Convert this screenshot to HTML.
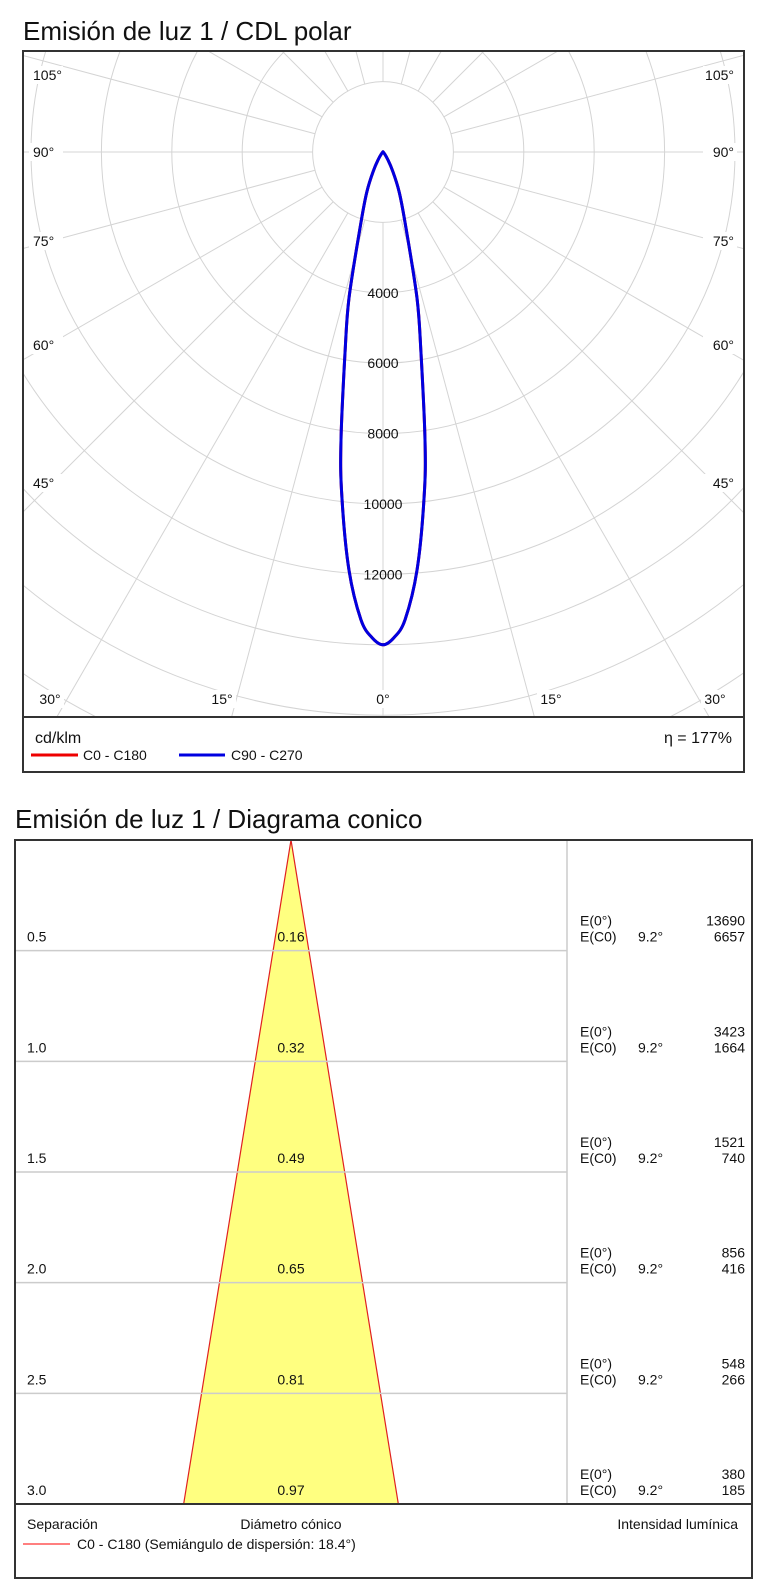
<!DOCTYPE html>
<html><head><meta charset="utf-8"><style>
html,body{margin:0;padding:0;background:#fff;width:764px;height:1587px;overflow:hidden;}
svg{display:block;font-family:"Liberation Sans",Arial,sans-serif;}
</style></head><body>
<svg id="s" width="764" height="1587" viewBox="0 0 764 1587">
<text x="23" y="40" font-size="26" fill="#111">Emisión de luz 1 / CDL polar</text>
<defs><clipPath id="pc"><rect x="23" y="51" width="720" height="666"/></clipPath></defs>
<g id="polarGrid" clip-path="url(#pc)"></g>
<g id="polarCurves" clip-path="url(#pc)"></g>
<g id="polarLabels"></g>
<rect x="23" y="51" width="721" height="721" fill="none" stroke="#333" stroke-width="2"/>
<line x1="23" y1="717" x2="744" y2="717" stroke="#333" stroke-width="2"/>
<text x="35" y="743" font-size="16" fill="#111">cd/klm</text>
<text x="732" y="743" font-size="16" fill="#111" text-anchor="end">η = 177%</text>
<line x1="31" y1="755" x2="78" y2="755" stroke="#e00" stroke-width="3"/>
<text x="83" y="760" font-size="14" fill="#111">C0 - C180</text>
<line x1="179" y1="755" x2="225" y2="755" stroke="#0000e0" stroke-width="3"/>
<text x="231" y="760" font-size="14" fill="#111">C90 - C270</text>

<text x="15" y="828" font-size="26" fill="#111">Emisión de luz 1 / Diagrama conico</text>
<g id="cone"></g>
<line x1="567" y1="840" x2="567" y2="1504" stroke="#ccc" stroke-width="1.5"/>
<rect x="15" y="840" width="737" height="738" fill="none" stroke="#333" stroke-width="2"/>
<line x1="15" y1="1504" x2="752" y2="1504" stroke="#333" stroke-width="2"/>
<text x="27" y="1529" font-size="14" fill="#111">Separación</text>
<text x="291" y="1529" font-size="14" fill="#111" text-anchor="middle">Diámetro cónico</text>
<text x="738" y="1529" font-size="14" fill="#111" text-anchor="end">Intensidad lumínica</text>
<line x1="23" y1="1544" x2="70" y2="1544" stroke="#f55" stroke-width="1.5"/>
<text x="77" y="1549" font-size="14" fill="#111">C0 - C180 (Semiángulo de dispersión: 18.4°)</text>
</svg>
<script>
const gammaDeg = [0, 1.3, 2.7, 4.65, 6.8, 8.3, 10.7, 13.1, 17.4, 22, 27, 32, 40, 60, 90];
const intensityC0 = [14000, 13800, 13300, 11920, 9870, 8270, 5810, 4260, 2090, 1230, 610, 255, 60, 0, 0];
const intensityC90 = [14000, 13800, 13300, 11920, 9870, 8270, 5810, 4260, 2090, 1230, 610, 255, 60, 0, 0];
const radialTicks = [4000, 6000, 8000, 10000, 12000];
const separations = [0.5, 1.0, 1.5, 2.0, 2.5, 3.0];
const sepLabels = ["0.5", "1.0", "1.5", "2.0", "2.5", "3.0"];
const diameters = ["0.16", "0.32", "0.49", "0.65", "0.81", "0.97"];
const eCenter = ["13690", "3423", "1521", "856", "548", "380"];
const eEdge = ["6657", "1664", "740", "416", "266", "185"];
const halfAngle = "9.2°";

const NS = "http://www.w3.org/2000/svg";
function mk(tag, attrs, parent) { const e = document.createElementNS(NS, tag); for (const k in attrs) e.setAttribute(k, attrs[k]); parent.appendChild(e); return e; }
const cx = 383, cy = 152, sc = 0.0352;
function px(g, I) { const r = I * sc, a = g * Math.PI / 180; return [cx + r * Math.sin(a), cy + r * Math.cos(a)]; }

const grid = document.getElementById('polarGrid');
for (let I = 2000; I <= 22000; I += 2000) {
  const c = mk('circle', {cx: cx, cy: cy, r: I * sc, fill: 'none', stroke: '#d4d4d4', 'stroke-width': 1}, grid);
  
  
}
for (let a = 0; a < 360; a += 15) {
  const r0 = 2000 * sc, r1 = 730, t = a * Math.PI / 180;
  const l = mk('line', {x1: cx + r0 * Math.sin(t), y1: cy + r0 * Math.cos(t), x2: cx + r1 * Math.sin(t), y2: cy + r1 * Math.cos(t), stroke: '#d4d4d4', 'stroke-width': 1}, grid);
  
  
}
function smoothPath(pts) {
  let d = 'M' + pts[0][0].toFixed(1) + ',' + pts[0][1].toFixed(1);
  for (let i = 0; i < pts.length - 1; i++) {
    const p0 = pts[Math.max(0, i - 1)], p1 = pts[i], p2 = pts[i + 1], p3 = pts[Math.min(pts.length - 1, i + 2)];
    const c1 = [p1[0] + (p2[0] - p0[0]) / 6, p1[1] + (p2[1] - p0[1]) / 6];
    const c2 = [p2[0] - (p3[0] - p1[0]) / 6, p2[1] - (p3[1] - p1[1]) / 6];
    d += 'C' + c1.map(v => v.toFixed(1)).join(',') + ' ' + c2.map(v => v.toFixed(1)).join(',') + ' ' + p2.map(v => v.toFixed(1)).join(',');
  }
  return d;
}
function curve(vals, color, name) {
  const pts = [];
  for (let i = gammaDeg.length - 1; i >= 0; i--) pts.push(px(-gammaDeg[i], vals[i]));
  for (let i = 1; i < gammaDeg.length; i++) pts.push(px(gammaDeg[i], vals[i]));
  const p = mk('path', {d: smoothPath(pts), fill: 'none', stroke: color, 'stroke-width': 3, 'stroke-linejoin': 'round'}, document.getElementById('polarCurves'));
  
  
}
curve(intensityC0, '#e00000', 'curve-c0-c180');
curve(intensityC90, '#0000e0', 'curve-c90-c270');

const lab = document.getElementById('polarLabels');
radialTicks.forEach(v => {
  const y = cy + v * sc;
  const t = mk('text', {x: cx, y: y + 5, 'font-size': 14, 'text-anchor': 'middle', fill: '#111'}, lab);
  t.textContent = v;
  
  
});
const sideLabels = [["105°", 75], ["90°", 152], ["75°", 241], ["60°", 345], ["45°", 483]];
sideLabels.forEach(s => {
  [[33, 'start', 29], [734, 'end', 703]].forEach(o => {
    mk('rect', {x: o[2], y: s[1] - 9, width: 34, height: 18, fill: '#fff'}, lab);
    const t = mk('text', {x: o[0], y: s[1] + 5, 'font-size': 14, 'text-anchor': o[1], fill: '#111'}, lab);
    t.textContent = s[0];
    
    
  });
});
[["30°", 50], ["15°", 222], ["0°", 383], ["15°", 551], ["30°", 715]].forEach(s => {
  mk('rect', {x: s[1] - 14, y: 690, width: 28, height: 18, fill: '#fff'}, lab);
  const t = mk('text', {x: s[1], y: 704, 'font-size': 14, 'text-anchor': 'middle', fill: '#111'}, lab);
  t.textContent = s[0];
  
  
});

const cone = document.getElementById('cone');
const top0 = 840, bot = 1504, apexX = 291;
const pxPerM = (bot - top0) / separations[separations.length - 1];
const ySep = d => top0 + d * pxPerM;
const lastD = parseFloat(diameters[diameters.length - 1]);
const hw = lastD / 2 * pxPerM;
const poly = mk('polygon', {points: `${apexX},${top0} ${apexX - hw},${bot} ${apexX + hw},${bot}`, fill: '#ffff80', stroke: '#e02020', 'stroke-width': 1.2}, cone);


separations.forEach((d, i) => {
  const y = ySep(d);
  if (i < separations.length - 1) {
    const l = mk('line', {x1: 15, y1: y, x2: 567, y2: y, stroke: '#ccc', 'stroke-width': 1.5}, cone);
    
    
  }
  const items = [
    [27, y - 9, 'start', sepLabels[i], 'separation-label'],
    [apexX, y - 9, 'middle', diameters[i], 'diameter-label'],
    [580, y - 25, 'start', 'E(0°)', 'e-center-name'],
    [580, y - 9, 'start', 'E(C0)', 'e-edge-name'],
    [638, y - 9, 'start', halfAngle, 'e-edge-angle'],
    [745, y - 25, 'end', eCenter[i], 'e-center-value'],
    [745, y - 9, 'end', eEdge[i], 'e-edge-value']
  ];
  items.forEach(it => {
    const t = mk('text', {x: it[0], y: it[1], 'font-size': 14, 'text-anchor': it[2], fill: '#111'}, cone);
    t.textContent = it[3];
    
    
  });
});
</script>
</body></html>
